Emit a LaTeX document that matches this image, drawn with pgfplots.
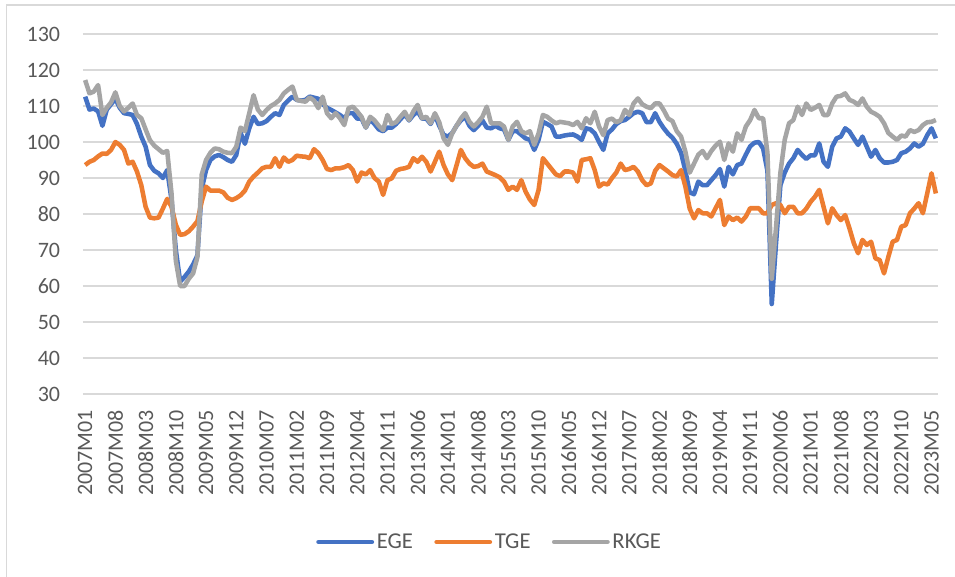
\documentclass[border=0pt]{standalone}
\usepackage{pgfplots}
\usepackage{pgfplotstable}
\usepackage{fontspec}
\setmainfont{Carlito}
\pgfplotsset{compat=1.18}
\definecolor{cEGE}{HTML}{4472C4}
\definecolor{cTGE}{HTML}{ED7D31}
\definecolor{cRKGE}{HTML}{A5A5A5}
\definecolor{gridc}{HTML}{D9D9D9}
\definecolor{txtc}{HTML}{595959}

\pgfplotstableread{
i e t r
0 112.6 93.6 117.2
1 109.0 94.5 113.5
2 109.3 95.0 114.0
3 108.5 96.0 115.8
4 104.5 96.8 107.5
5 109.0 96.7 109.5
6 110.5 97.8 111.0
7 112.0 100.0 113.8
8 109.5 99.2 110.0
9 108.0 97.8 108.5
10 107.8 94.0 109.5
11 107.5 94.5 110.7
12 105.0 91.8 107.5
13 101.5 88.0 106.6
14 98.7 82.0 103.5
15 93.6 79.0 100.5
16 92.0 78.8 99.0
17 91.3 79.0 98.0
18 90.0 81.5 97.0
19 92.2 84.2 97.5
20 84.0 82.0 85.7
21 70.0 77.0 67.0
22 61.2 74.2 60.0
23 62.5 74.4 60.0
24 64.0 75.2 62.0
25 66.0 76.5 63.5
26 68.5 78.0 68.0
27 87.0 83.5 91.0
28 92.2 87.6 95.0
29 95.0 86.5 97.0
30 96.0 86.5 98.2
31 96.4 86.5 98.0
32 95.8 86.0 97.3
33 95.0 84.5 97.0
34 94.5 83.9 96.9
35 96.4 84.4 98.7
36 102.5 85.2 104.0
37 99.5 86.5 103.0
38 103.8 89.0 108.0
39 107.0 90.4 113.0
40 105.0 91.5 109.0
41 105.2 92.7 107.5
42 105.8 93.1 108.9
43 107.0 93.1 110.0
44 108.0 95.5 110.7
45 107.5 93.1 111.7
46 110.3 95.7 113.5
47 111.5 94.5 114.5
48 112.6 95.0 115.4
49 111.7 96.2 111.7
50 111.5 96.0 111.4
51 111.7 95.9 111.2
52 112.6 95.5 112.4
53 112.3 98.0 111.5
54 112.0 96.9 109.4
55 110.5 95.0 112.6
56 109.5 92.5 108.0
57 108.9 92.2 106.6
58 108.2 92.7 108.0
59 107.5 92.7 106.6
60 106.6 93.0 104.7
61 108.0 93.6 109.4
62 108.0 92.2 109.8
63 106.5 89.0 108.5
64 106.5 91.5 107.0
65 104.0 91.0 104.0
66 106.3 92.2 107.0
67 105.0 90.0 106.0
68 103.5 89.0 104.5
69 103.0 85.3 103.3
70 104.0 89.4 107.5
71 104.0 89.9 105.0
72 105.0 92.0 105.5
73 106.3 92.5 107.0
74 107.7 92.7 108.4
75 106.0 93.1 106.1
76 107.5 95.5 108.5
77 108.5 94.5 110.3
78 106.5 95.9 106.6
79 106.5 94.5 107.0
80 105.0 91.8 105.2
81 107.5 94.5 108.0
82 104.5 97.3 105.5
83 102.0 93.6 101.0
84 101.5 91.0 99.2
85 102.5 89.4 102.4
86 104.5 93.5 104.5
87 106.0 97.8 106.5
88 107.0 95.5 108.0
89 104.5 94.0 105.6
90 103.3 93.1 104.3
91 104.5 93.3 105.5
92 106.0 94.0 107.0
93 104.0 91.8 109.8
94 103.8 91.3 105.2
95 104.5 90.8 105.2
96 103.8 90.2 105.2
97 103.5 89.0 104.3
98 100.6 86.7 100.6
99 103.0 87.6 104.3
100 103.0 86.7 105.6
101 102.0 89.4 103.0
102 101.0 86.2 102.4
103 100.6 84.0 103.0
104 97.8 82.5 99.2
105 100.6 86.7 102.4
106 105.6 95.5 107.5
107 105.0 94.0 107.0
108 104.3 92.5 106.0
109 101.5 91.0 105.2
110 101.5 90.5 105.6
111 101.8 91.8 105.4
112 102.0 91.8 105.2
113 102.1 91.5 104.7
114 101.5 89.0 105.6
115 100.6 95.0 103.8
116 103.8 95.2 106.6
117 103.5 95.5 105.2
118 102.4 92.2 108.4
119 100.0 87.6 104.3
120 97.8 88.5 101.9
121 102.4 88.2 106.1
122 103.5 90.0 106.5
123 105.0 91.5 105.5
124 105.8 94.0 106.0
125 106.1 92.2 108.9
126 107.0 92.5 107.5
127 108.0 93.1 110.7
128 108.4 91.8 112.1
129 108.0 89.4 110.5
130 105.5 88.0 109.8
131 105.5 88.5 109.4
132 108.0 92.0 110.7
133 105.6 93.6 110.7
134 103.8 92.7 108.8
135 102.3 91.8 106.5
136 101.2 90.8 105.8
137 99.5 90.4 103.0
138 97.0 92.2 101.5
139 92.0 87.6 97.3
140 86.0 81.5 91.5
141 85.5 78.8 94.0
142 89.0 81.1 96.5
143 88.0 80.2 97.5
144 88.0 80.2 95.5
145 89.4 79.3 97.5
146 90.8 81.6 99.0
147 92.5 83.9 100.1
148 87.6 76.9 95.0
149 93.1 79.3 99.6
150 91.0 78.3 97.3
151 93.6 79.0 102.4
152 94.0 77.9 100.6
153 96.5 79.3 104.3
154 98.8 81.6 106.1
155 99.8 81.6 108.9
156 100.0 81.6 106.6
157 98.2 80.2 106.6
158 92.0 80.2 97.0
159 55.0 82.5 62.0
160 72.0 83.0 76.5
161 88.0 82.5 91.5
162 91.5 80.2 100.6
163 94.0 82.0 105.2
164 95.5 82.0 106.1
165 97.8 80.2 109.8
166 96.4 80.2 107.5
167 95.3 81.5 110.7
168 96.3 83.4 108.9
169 96.3 84.8 109.5
170 99.6 86.7 110.3
171 94.5 82.0 107.5
172 93.1 77.4 107.5
173 98.7 81.6 110.7
174 101.0 79.7 112.6
175 101.5 78.3 112.8
176 103.8 79.7 113.5
177 102.9 76.0 111.7
178 101.0 71.9 111.2
179 99.2 69.1 110.3
180 101.5 72.8 112.1
181 98.7 71.4 109.8
182 95.9 72.3 108.4
183 97.8 67.7 107.8
184 95.5 67.2 107.0
185 94.3 63.5 105.2
186 94.3 68.1 102.5
187 94.5 72.3 101.5
188 95.0 72.8 100.6
189 96.9 76.5 101.8
190 97.3 76.9 101.5
191 98.2 80.2 103.3
192 99.6 81.5 102.8
193 98.7 83.0 103.3
194 99.5 80.2 104.7
195 101.9 85.7 105.5
196 103.8 91.3 105.6
197 101.0 85.7 106.1
}\datatable

\begin{document}
\begin{tikzpicture}
\begin{axis}[
  at={(62.25pt,137.25pt)}, anchor=south west,
  scale only axis, width=641.25pt, height=270pt,
  xmin=-0.5, xmax=197.5, ymin=30, ymax=130,
  ytick={30,40,...,130},
  xtick={0,7,...,196},
  xticklabels={2007M01,2007M08,2008M03,2008M10,2009M05,2009M12,2010M07,2011M02,2011M09,2012M04,2012M11,2013M06,2014M01,2014M08,2015M03,2015M10,2016M05,2016M12,2017M07,2018M02,2018M09,2019M04,2019M11,2020M06,2021M01,2021M08,2022M03,2022M10,2023M05},
  axis line style={draw=none},
  major tick length=0pt,
  ymajorgrids, major grid style={color=gridc, line width=1.1pt},
  /pgf/number format/assume math mode=true,
  ticklabel style={font=\fontsize{16.5}{19}\selectfont, text=txtc},
  xticklabel style={rotate=90, anchor=east, inner sep=0pt, xshift=-12pt},
  yticklabel style={anchor=east, inner sep=0pt, xshift=-17pt},
  every axis plot/.append style={line width=3.4pt, line join=round, mark=none},
  legend columns=3,
  legend image code/.code={\draw[#1, line cap=round] (0pt,0pt) -- (40pt,0pt);},
  legend style={draw=none, fill=none, at={(0.476,-0.411)}, anchor=center,
    font=\fontsize{17}{20}\selectfont, text=txtc,
    /tikz/every even column/.append style={column sep=14pt},
    inner sep=0pt, nodes={inner sep=2pt}},
]
\addplot[color=cEGE] table[x=i, y=e] {\datatable};
\addlegendentry{EGE}
\addplot[color=cTGE] table[x=i, y=t] {\datatable};
\addlegendentry{TGE}
\addplot[color=cRKGE] table[x=i, y=r] {\datatable};
\addlegendentry{RKGE}
\end{axis}
\draw[gridc, line width=1.1pt] (4.9pt,0pt) -- (4.9pt,429pt) -- (716.25pt,429pt);
\pgfresetboundingbox
\path[use as bounding box] (0,0) rectangle (716.25pt,432.75pt);
\end{tikzpicture}
\end{document}
